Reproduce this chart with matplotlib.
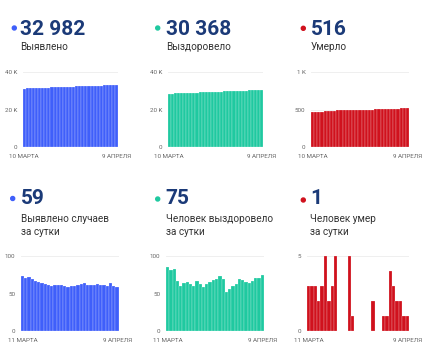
import matplotlib
matplotlib.use("Agg")
import matplotlib.pyplot as plt
from matplotlib.patches import Ellipse

plt.rcParams['font.family'] = ['Roboto', 'DejaVu Sans']

# cumulative, 10 марта .. 9 апреля
cases_total = [31090, 31164, 31235, 31307, 31376, 31443, 31509, 31573, 31636, 31697,
               31757, 31819, 31880, 31942, 32002, 32061, 32121, 32181, 32242, 32305,
               32369, 32431, 32492, 32553, 32616, 32677, 32739, 32799, 32863, 32923, 32982]
recovered_total = [28356, 28442, 28524, 28607, 28674, 28734, 28798, 28864, 28927, 28987,
                   29054, 29117, 29176, 29239, 29305, 29373, 29442, 29515, 29585, 29637,
                   29693, 29753, 29816, 29886, 29954, 30020, 30084, 30151, 30222, 30293, 30368]
deaths_total = [464, 467, 470, 473, 475, 478, 483, 485, 488, 493,
                493, 493, 493, 498, 499, 499, 499, 499, 499, 499,
                501, 501, 501, 502, 503, 507, 510, 512, 514, 515, 516]

# daily, 11 марта .. 9 апреля
cases_daily = [74, 71, 72, 69, 67, 66, 64, 63, 61, 60, 62, 61, 62, 60, 59,
               60, 60, 61, 63, 64, 62, 61, 61, 63, 61, 62, 60, 64, 60, 59]
recovered_daily = [86, 82, 83, 67, 60, 64, 66, 63, 60, 67, 63, 59, 63, 66, 68,
                   69, 73, 70, 52, 56, 60, 63, 70, 68, 66, 64, 67, 71, 71, 75]
deaths_daily = [3, 3, 3, 2, 3, 5, 2, 3, 5, 0, 0, 0, 5, 1, 0,
                0, 0, 0, 0, 2, 0, 0, 1, 1, 4, 3, 2, 2, 1, 1]

headlines = ["32 982", "30 368", "516", "59", "75", "1"]
labels = ["Выявлено", "Выздоровело", "Умерло",
          "Выявлено случаев\nза сутки", "Человек выздоровело\nза сутки", "Человек умер\nза сутки"]

BLUE = "#3f5ffa"
GREEN = "#1fc9a0"
RED = "#d0111d"
NAVY = "#1b3a78"

W, H = 430, 351
fig = plt.figure(figsize=(W / 100, H / 100), dpi=100)


def fx(x):
    return x / W


def fy(y):
    return 1 - y / H


def panel(x0, x1, ytop, ybot, vals, color, ymax, yticks, yticklabels, xlabels):
    ax = fig.add_axes([fx(x0), fy(ybot), (x1 - x0) / W, (ybot - ytop) / H])
    n = len(vals)
    ax.bar(range(n), vals, width=1.0, color=color, edgecolor='white', linewidth=0.15, zorder=2)
    ax.set_xlim(-0.5, n - 0.5)
    ax.set_ylim(0, ymax)
    ax.set_yticks(yticks)
    ax.set_yticklabels(yticklabels)
    ax.set_xticks([0, n - 1])
    ax.set_xticklabels(xlabels)
    ax.grid(axis='y', color='#ececec', lw=0.6, zorder=0)
    for s in ax.spines.values():
        s.set_visible(False)
    ax.tick_params(axis='y', length=0, pad=4, labelsize=4.5, labelcolor='#666666')
    ax.tick_params(axis='x', length=0, pad=5, labelsize=4.5, labelcolor='#666666')
    return ax


def header(xdot, ydot, xtxt, ynum, ylab, num, lab, color, two_lines=False):
    fig.add_artist(Ellipse((fx(xdot), fy(ydot)), 4 / W, 4 / H,
                           transform=fig.transFigure, color=color))
    fig.text(fx(xtxt), fy(ynum), num, fontsize=15, fontweight='bold',
             color=NAVY, va='baseline', ha='left')
    if two_lines:
        l1, l2 = lab.split("\n")
        fig.text(fx(xtxt), fy(ylab), l1, fontsize=7.2, color='#333333', va='baseline')
        fig.text(fx(xtxt), fy(ylab + 13.3), l2, fontsize=7.2, color='#333333', va='baseline')
    else:
        fig.text(fx(xtxt), fy(ylab), lab, fontsize=7.2, color='#333333', va='baseline')


top_x = ["10 МАРТА", "9 АПРЕЛЯ"]
bot_x = ["11 МАРТА", "9 АПРЕЛЯ"]

# top row
header(14.3, 28, 20, 35, 50.5, headlines[0], labels[0], BLUE)
header(157.7, 28, 165.7, 35, 50.5, headlines[1], labels[1], GREEN)
header(303.3, 28.3, 311, 35, 50.5, headlines[2], labels[2], RED)
panel(22.7, 118.3, 71.7, 147.3, cases_total, BLUE, 40000, [0, 20000, 40000], ["0", "20 K", "40 K"], top_x)
panel(167.7, 263.3, 71.7, 147.3, recovered_total, GREEN, 40000, [0, 20000, 40000], ["0", "20 K", "40 K"], top_x)
panel(311, 409, 71.7, 147.3, deaths_total, RED, 1000, [0, 500, 1000], ["0", "500", "1 K"], top_x)

# bottom row
header(12.7, 198.5, 20.7, 203.5, 221.7, headlines[3], labels[3], BLUE, True)
header(157.7, 199, 165.7, 203.5, 221.7, headlines[4], labels[4], GREEN, True)
header(303.3, 200, 310.5, 203.5, 221.7, headlines[5], labels[5], RED, True)
panel(20.7, 118.7, 256, 331, cases_daily, BLUE, 100, [0, 50, 100], ["0", "50", "100"], bot_x)
panel(166, 264, 256, 331, recovered_daily, GREEN, 100, [0, 50, 100], ["0", "50", "100"], bot_x)
panel(306.7, 409, 256, 331, deaths_daily, RED, 5, [0, 5], ["0", "5"], bot_x)

fig.savefig("out.png", dpi=100, facecolor='white')
